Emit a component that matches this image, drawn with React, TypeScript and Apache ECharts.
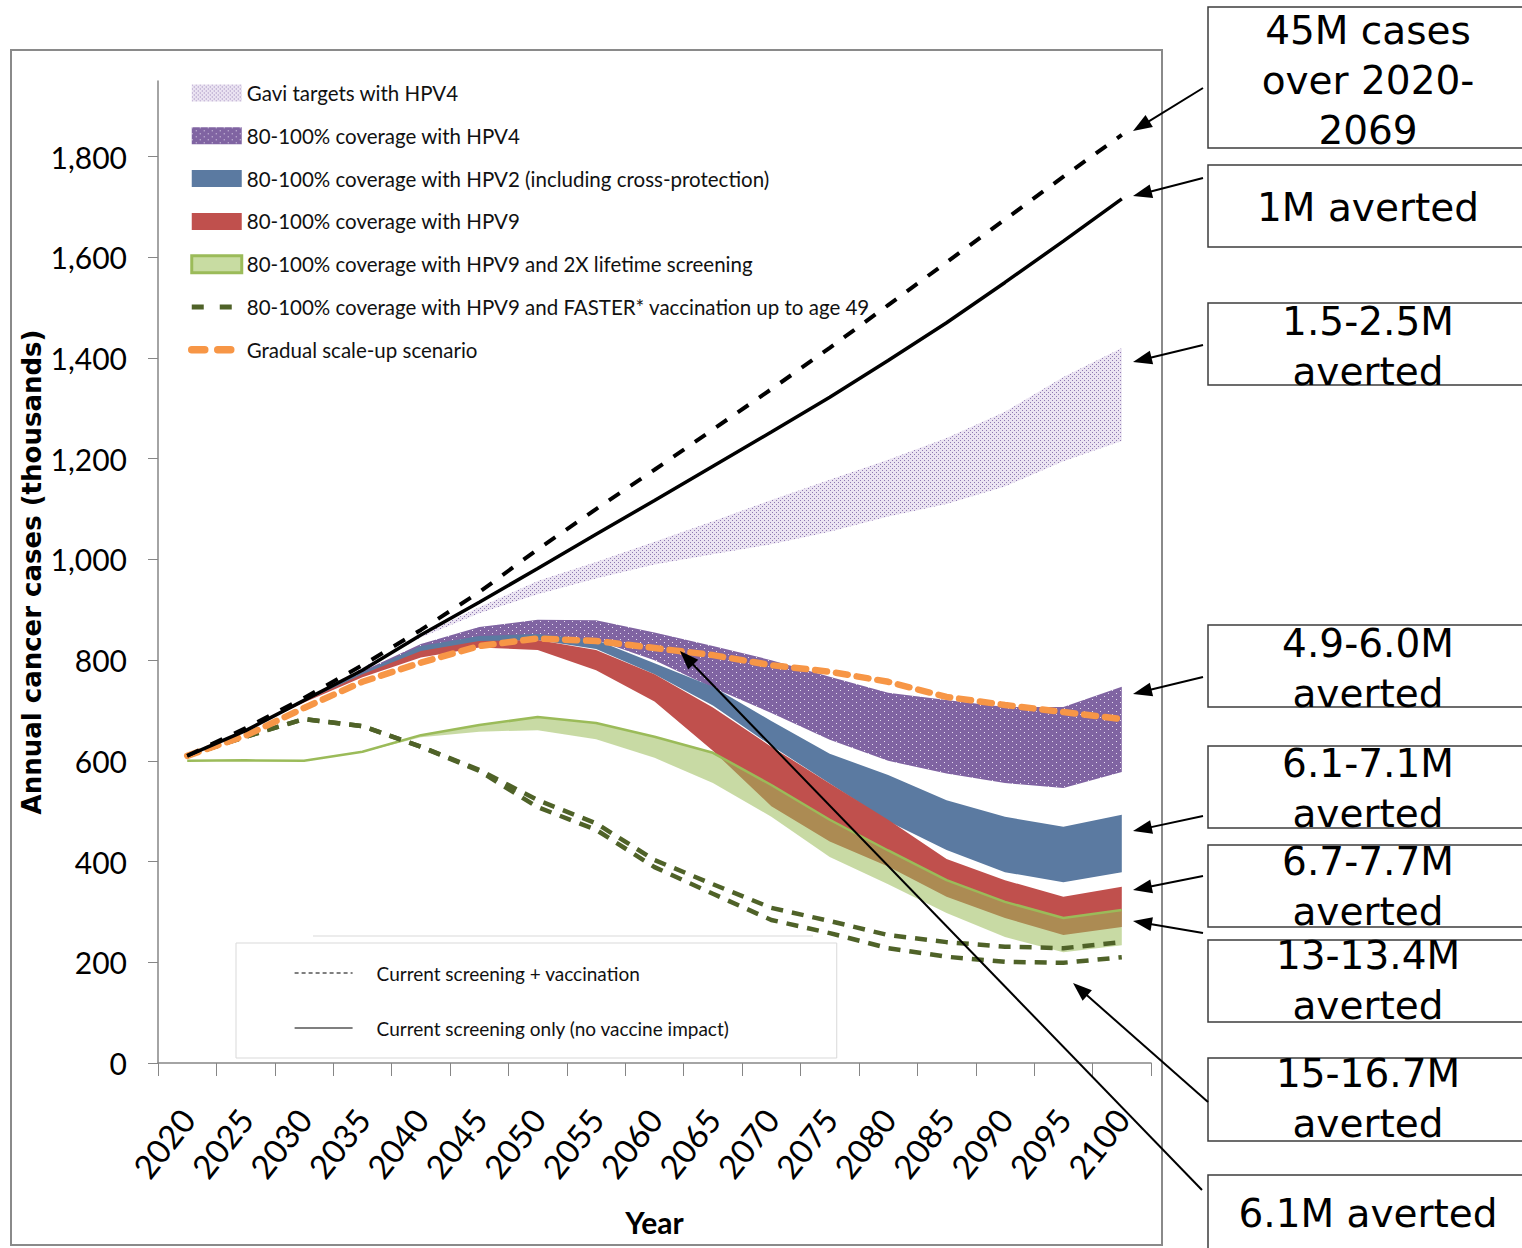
import React, { useEffect, useRef } from 'react';
import * as echarts from 'echarts';

const years = ['2020', '2025', '2030', '2035', '2040', '2045', '2050', '2055', '2060', '2065', '2070', '2075', '2080', '2085', '2090', '2095', '2100'];

const screeningPlusVaccination = [610, 665, 725, 790, 860, 935, 1020, 1100, 1178, 1258, 1338, 1420, 1505, 1590, 1675, 1760, 1843];
const screeningOnly = [610, 660, 720, 780, 850, 915, 982, 1050, 1117, 1185, 1253, 1322, 1395, 1470, 1550, 1632, 1716];
const gaviUpper = [610, 660, 720, 785, 850, 905, 957, 995, 1035, 1076, 1118, 1158, 1198, 1241, 1293, 1362, 1420];
const gaviLower = [610, 660, 720, 782, 845, 893, 931, 962, 990, 1010, 1030, 1055, 1085, 1110, 1145, 1195, 1235];
const hpv4Upper = [610, 660, 720, 778, 832, 866, 880, 879, 855, 828, 800, 767, 735, 721, 707, 707, 747];
const hpv4Lower = [610, 660, 718, 772, 815, 838, 845, 840, 800, 745, 695, 642, 600, 575, 556, 546, 578];
const hpv2Upper = [610, 660, 719, 776, 828, 848, 852, 840, 794, 747, 679, 614, 572, 522, 489, 469, 493];
const hpv2Lower = [610, 660, 718, 770, 815, 836, 840, 822, 772, 710, 630, 555, 480, 423, 379, 359, 379];
const hpv9Upper = [610, 660, 718, 772, 818, 838, 840, 820, 772, 706, 628, 555, 483, 405, 363, 330, 350];
const hpv9Lower = [610, 660, 716, 766, 805, 825, 820, 780, 718, 620, 510, 440, 390, 330, 288, 254, 270];
const hpv9ScreenUpper = [600, 601, 600, 618, 651, 671, 687, 675, 648, 616, 552, 483, 422, 363, 320, 288, 304];
const hpv9ScreenLower = [600, 600, 600, 617, 647, 658, 661, 643, 606, 556, 489, 409, 355, 298, 250, 220, 234];
const fasterUpper = [610, 648, 683, 669, 628, 582, 522, 476, 403, 355, 308, 282, 254, 240, 231, 228, 240];
const fasterLower = [610, 648, 683, 669, 628, 580, 508, 463, 389, 336, 284, 258, 228, 211, 201, 199, 210];
const gradualScaleUp = [610, 650, 705, 757, 795, 828, 843, 838, 824, 810, 790, 777, 757, 727, 711, 697, 683];
const yTicks = [0, 200, 400, 600, 800, 1000, 1200, 1400, 1600, 1800];

const NAME_GAVI = 'Gavi targets with HPV4';
const NAME_HPV4 = '80-100% coverage with HPV4';
const NAME_HPV2 = '80-100% coverage with HPV2 (including cross-protection)';
const NAME_HPV9 = '80-100% coverage with HPV9';
const NAME_SCREEN = '80-100% coverage with HPV9 and 2X lifetime screening';
const NAME_FASTER = '80-100% coverage with HPV9 and FASTER* vaccination up to age 49';
const NAME_GRADUAL = 'Gradual scale-up scenario';
const NAME_SV = 'Current screening + vaccination';
const NAME_SO = 'Current screening only (no vaccine impact)';

const annotations = [
  { y: 7, h: 141, lines: ['45M cases', 'over 2020-', '2069'], ty: [30, 80, 130], tail: [1203, 88], tip: [1133, 131] },
  { y: 165, h: 82, lines: ['1M averted'], ty: [207], tail: [1203, 178], tip: [1133, 196] },
  { y: 303, h: 82, lines: ['1.5-2.5M', 'averted'], ty: [321, 371], tail: [1203, 345], tip: [1133, 362] },
  { y: 625, h: 82, lines: ['4.9-6.0M', 'averted'], ty: [643, 693], tail: [1203, 677], tip: [1133, 694] },
  { y: 746, h: 82, lines: ['6.1-7.1M', 'averted'], ty: [763, 813], tail: [1203, 816], tip: [1133, 831] },
  { y: 845, h: 82, lines: ['6.7-7.7M', 'averted'], ty: [861, 911], tail: [1203, 876], tip: [1133, 890] },
  { y: 940, h: 82, lines: ['13-13.4M', 'averted'], ty: [955, 1005], tail: [1203, 933], tip: [1133, 921] },
  { y: 1058, h: 83, lines: ['15-16.7M', 'averted'], ty: [1073, 1123], tail: [1208, 1102], tip: [1073, 983] },
  { y: 1175, h: 90, lines: ['6.1M averted'], ty: [1213], tail: [1202, 1190], tip: [680, 651] },
];

const NARROW = "Lato, Roboto, sans-serif";
const WIDE = "'DejaVu Sans', Verdana, sans-serif";

function dotPattern(bg: string, dot: string, w: number, h: number, dots: number[][]) {
  const c = document.createElement('canvas');
  c.width = w;
  c.height = h;
  const ctx = c.getContext('2d')!;
  ctx.fillStyle = bg;
  ctx.fillRect(0, 0, w, h);
  ctx.fillStyle = dot;
  dots.forEach(([x, y]) => ctx.fillRect(x, y, 1, 1));
  return { image: c, repeat: 'repeat', imageWidth: w, imageHeight: h } as any;
}

function band(id: string, name: string, lower: number[], upper: number[], fill: any, solid: string, line?: any) {
  return [
    {
      type: 'line', name: id + '-base', stack: id, data: lower, symbol: 'none', silent: true,
      lineStyle: { width: 0, opacity: 0 }, itemStyle: { color: 'transparent' },
    },
    {
      type: 'line', name, stack: id, data: upper.map((u, i) => u - lower[i]), symbol: 'none', silent: true,
      lineStyle: line || { width: 0, opacity: 0 }, itemStyle: { color: solid },
      areaStyle: { color: fill, opacity: 1 },
    },
  ];
}

function arrowGraphics(tail: number[], tip: number[]) {
  const dx = tip[0] - tail[0];
  const dy = tip[1] - tail[1];
  const len = Math.sqrt(dx * dx + dy * dy);
  const ux = dx / len, uy = dy / len;
  const nx = -uy, ny = ux;
  const L = 19, W = 14;
  const bx = tip[0] - ux * L, by = tip[1] - uy * L;
  return [
    { type: 'line', z: 100, shape: { x1: tail[0], y1: tail[1], x2: tip[0] - ux * L * 0.6, y2: tip[1] - uy * L * 0.6 }, style: { stroke: '#000', lineWidth: 2 } },
    { type: 'polygon', z: 100, shape: { points: [[tip[0], tip[1]], [bx + nx * W / 2, by + ny * W / 2], [bx - nx * W / 2, by - ny * W / 2]] }, style: { fill: '#000' } },
  ];
}

const hideSymbol = { color: 'rgba(0,0,0,0)', borderColor: 'rgba(0,0,0,0)', borderWidth: 0, opacity: 0 };

export default function App() {
  const ref = useRef<HTMLDivElement>(null);
  useEffect(() => {
    if (!ref.current) return;
    const chart = echarts.init(ref.current, null, { renderer: 'svg' });
    const gaviFill = dotPattern('#ebe4f2', '#8f7ab2', 4, 4, [[0, 0], [2, 2]]);
    const hpv4Fill = dotPattern('#8064a2', '#e8e0f0', 8, 6, [[0, 0], [4, 3]]);
    const greenFill = 'rgba(155,187,89,0.55)';

    const graphics: any[] = [
      { type: 'rect', z: -10, silent: true, shape: { x: 11, y: 50, width: 1151, height: 1195 }, style: { fill: 'none', stroke: '#8a8a8a', lineWidth: 2 } },
      { type: 'line', z: 1, silent: true, shape: { x1: 313, y1: 936, x2: 813, y2: 936 }, style: { stroke: '#d9d9d9', lineWidth: 1 } },
    ];
    annotations.forEach((a) => {
      graphics.push({ type: 'rect', z: 90, shape: { x: 1208, y: a.y, width: 330, height: a.h }, style: { fill: '#fff', stroke: '#3c3c3c', lineWidth: 1.5 } });
    });
    annotations.forEach((a) => {
      a.lines.forEach((t, i) => {
        graphics.push({ type: 'text', z: 95, x: 1368, y: a.ty[i], style: { text: t, align: 'center', verticalAlign: 'middle', fontSize: 39, fontFamily: WIDE, fill: '#000' } });
      });
      graphics.push(...arrowGraphics(a.tail, a.tip));
    });

    const series: any[] = [
      ...band('gavi', NAME_GAVI, gaviLower, gaviUpper, gaviFill, '#ddd4e8'),
      ...band('hpv4', NAME_HPV4, hpv4Lower, hpv4Upper, hpv4Fill, '#8064a2'),
      ...band('hpv2', NAME_HPV2, hpv2Lower, hpv2Upper, '#5b7aa1', '#5b7aa1'),
      ...band('hpv9', NAME_HPV9, hpv9Lower, hpv9Upper, '#c0504d', '#c0504d'),
      ...band('screen', NAME_SCREEN, hpv9ScreenLower, hpv9ScreenUpper, greenFill, '#9bbb59', { width: 2.5, color: '#9bbb59' }),
      { type: 'line', name: NAME_FASTER, data: fasterUpper, symbol: 'none', silent: true, itemStyle: { color: '#4f6228' }, lineStyle: { color: '#4f6228', width: 4.5, type: [12, 9] } },
      { type: 'line', name: NAME_FASTER, data: fasterLower, symbol: 'none', silent: true, itemStyle: { color: '#4f6228' }, lineStyle: { color: '#4f6228', width: 4.5, type: [12, 9] } },
      { type: 'line', name: NAME_GRADUAL, data: gradualScaleUp, symbol: 'none', silent: true, itemStyle: { color: '#f79646' }, lineStyle: { color: '#f79646', width: 6.5, type: [12, 9], cap: 'round' } },
      { type: 'line', name: NAME_SV, data: screeningPlusVaccination, symbol: 'none', silent: true, itemStyle: { color: '#000' }, lineStyle: { color: '#000', width: 4, type: [13, 13] } },
      { type: 'line', name: NAME_SO, data: screeningOnly, symbol: 'none', silent: true, itemStyle: { color: '#000' }, lineStyle: { color: '#000', width: 3.5 } },
    ];

    chart.setOption({
      animation: false,
      backgroundColor: '#fff',
      grid: { left: 158, top: 81, right: 371, bottom: 185, containLabel: false },
      xAxis: {
        type: 'category', data: years, boundaryGap: true,
        axisLine: { lineStyle: { color: '#868686', width: 1.5 } },
        axisTick: { show: true, interval: 0, length: 13, lineStyle: { color: '#868686' } },
        axisLabel: { interval: 0, rotate: 52, margin: 50, fontSize: 33, fontFamily: NARROW, color: '#000' },
        name: 'Year', nameLocation: 'middle', nameGap: 144, nameMoveOverlap: false,
        nameTextStyle: { fontSize: 30, fontWeight: 'bold', fontFamily: NARROW, color: '#000' },
      },
      yAxis: {
        type: 'value', min: 0, max: 1950, interval: 200,
        axisLine: { show: true, lineStyle: { color: '#868686', width: 1.5 } },
        axisTick: { show: true, length: 10, customValues: yTicks, lineStyle: { color: '#868686' } },
        axisLabel: {
          customValues: yTicks, margin: 31, fontSize: 30, fontFamily: NARROW, color: '#000',
          formatter: (v: number) => (v % 200 === 0 ? Number(v).toLocaleString('en-US') : ''),
        },
        splitLine: { show: false },
        name: 'Annual cancer cases (thousands)', nameLocation: 'middle', nameGap: 113, nameRotate: 90,
        nameMoveOverlap: false,
        nameTextStyle: { fontSize: 26, fontWeight: 'bold', fontFamily: WIDE, color: '#000' },
      },
      legend: [
        {
          orient: 'vertical', left: 188, top: 81, padding: 0, itemWidth: 50, itemHeight: 17, itemGap: 18.8,
          selectedMode: false,
          textStyle: { fontFamily: NARROW, fontSize: 20.5, lineHeight: 24, color: '#111' },
          data: [
            { name: NAME_GAVI, icon: 'rect', itemStyle: { color: gaviFill, borderWidth: 0 } },
            { name: NAME_HPV4, icon: 'rect', itemStyle: { color: hpv4Fill, borderWidth: 0 } },
            { name: NAME_HPV2, icon: 'rect', itemStyle: { color: '#5b7aa1', borderWidth: 0 } },
            { name: NAME_HPV9, icon: 'rect', itemStyle: { color: '#c0504d', borderWidth: 0 } },
            { name: NAME_SCREEN, icon: 'rect', itemStyle: { color: '#c8dca2', borderColor: '#9bbb59', borderWidth: 3 } },
            { name: NAME_FASTER, itemStyle: hideSymbol, lineStyle: { color: '#4f6228', width: 5, type: [12, 16] } },
            { name: NAME_GRADUAL, itemStyle: hideSymbol, lineStyle: { color: '#f79646', width: 7.5, type: [13, 13], cap: 'round' } },
          ],
        },
        {
          orient: 'vertical', left: 236, top: 943, padding: [18, 107, 18, 58], itemWidth: 58, itemHeight: 14, itemGap: 31,
          selectedMode: false, backgroundColor: '#fff', borderColor: '#d9d9d9', borderWidth: 1,
          textStyle: { fontFamily: NARROW, fontSize: 19, lineHeight: 24, color: '#111', padding: [0, 0, 0, 19] },
          data: [
            { name: NAME_SV, itemStyle: hideSymbol, lineStyle: { width: 1.2, type: [4, 3], color: '#000' } },
            { name: NAME_SO, itemStyle: hideSymbol, lineStyle: { width: 1.2, color: '#000' } },
          ],
        },
      ],
      series,
      graphic: graphics,
    });
    return () => chart.dispose();
  }, []);
  return <div ref={ref} style={{ position: 'absolute', left: 0, top: 0, width: 1522, height: 1248, background: '#fff' }} />;
}
